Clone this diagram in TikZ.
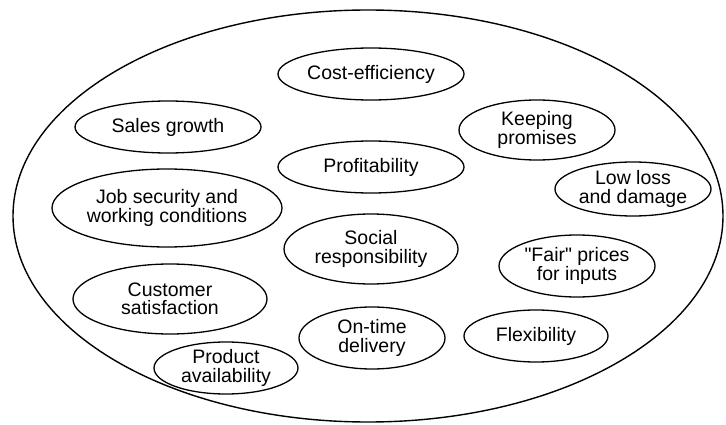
\documentclass[tikz,border=0pt]{standalone}
\usepackage{fontspec}
\setmainfont{Liberation Sans}[Ligatures=TeXOff]
\usetikzlibrary{shapes.geometric}
\begin{document}
\begin{tikzpicture}[x=1pt,y=-1pt,
  goal/.style={ellipse, draw, line width=1.3pt, inner sep=0pt, align=center,
    font=\fontsize{19.5}{18.5}\selectfont},
  outer/.style={ellipse, draw, line width=1.4pt, inner sep=0pt}]
  \useasboundingbox (0,0) rectangle (726,425);
  % enclosing set of objectives
  \node[outer, minimum width=710pt, minimum height=412pt] (all) at (368,216) {};
  % individual objectives
  \node[goal, minimum width=186pt, minimum height=52pt] (cost) at (371,74) {Cost-efficiency};
  \node[goal, minimum width=186pt, minimum height=52pt] (sales) at (168,127) {Sales growth};
  \node[goal, minimum width=156pt, minimum height=60pt] (keep) at (537,130) {Keeping\\promises};
  \node[goal, minimum width=186pt, minimum height=52pt] (profit) at (371,167) {Profitability};
  \node[goal, minimum width=156pt, minimum height=54pt] (loss) at (633,189) {Low loss\\and damage};
  \node[goal, minimum width=230pt, minimum height=78pt] (job) at (167,208) {Job security and\\working conditions};
  \node[goal, minimum width=174pt, minimum height=70pt] (social) at (371,249) {Social\\responsibility};
  \node[goal, minimum width=156pt, minimum height=62pt] (fair) at (577,266) {"Fair" prices\\for inputs};
  \node[goal, minimum width=194pt, minimum height=70pt] (cust) at (170,299) {Customer\\satisfaction};
  \node[goal, minimum width=146pt, minimum height=62pt] (ontime) at (372,338) {On-time\\delivery};
  \node[goal, minimum width=144pt, minimum height=52pt] (flex) at (536,336) {Flexibility};
  \node[goal, minimum width=144pt, minimum height=52pt] (avail) at (226,368) {Product\\availability};
\end{tikzpicture}
\end{document}
